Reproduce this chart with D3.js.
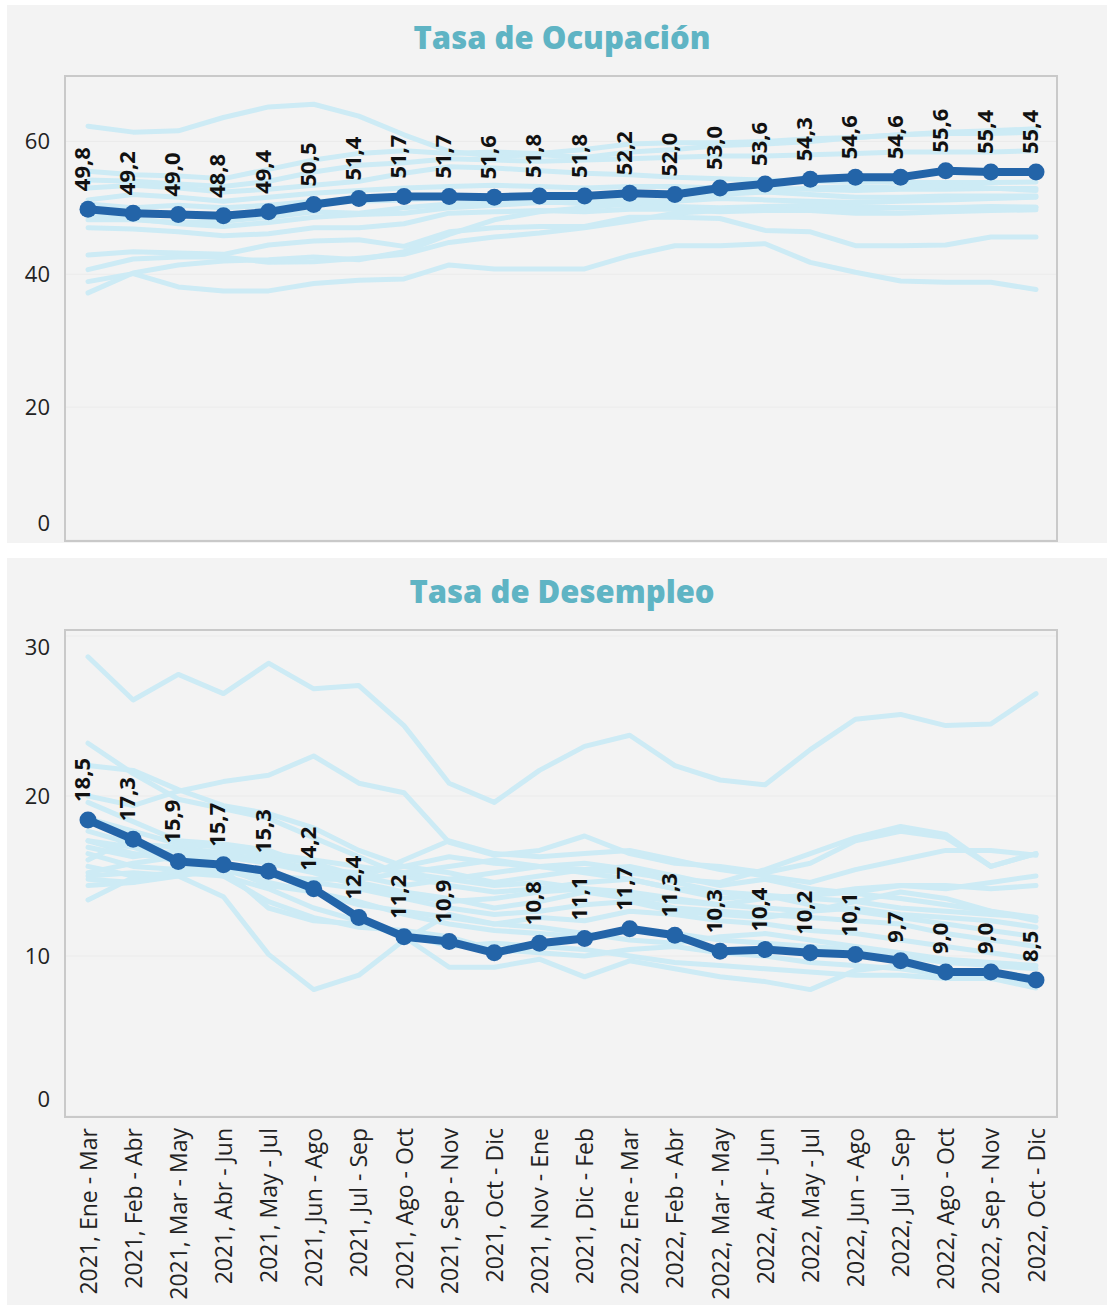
<!DOCTYPE html>
<meta charset="utf-8">
<style>
body { margin: 0; background: #fff; }
svg text { font-family: "Open Sans", "Noto Sans", sans-serif; }
.title { font-weight: 800; fill: #5fb4c4; text-anchor: middle; }
.tick text { font-size: 22px; fill: #222; }
.xlab .tick text { font-size: 23px; }
.val { font-size: 22px; font-weight: 700; fill: #111; }
</style>
<body>
<script src="https://d3js.org/d3.v7.min.js"></script>
<script>
// periods (x axis)
var periods = ["2021, Ene - Mar", "2021, Feb - Abr", "2021, Mar - May", "2021, Abr - Jun",
  "2021, May - Jul", "2021, Jun - Ago", "2021, Jul - Sep", "2021, Ago - Oct", "2021, Sep - Nov",
  "2021, Oct - Dic", "2021, Nov - Ene", "2021, Dic - Feb", "2022, Ene - Mar", "2022, Feb - Abr",
  "2022, Mar - May", "2022, Abr - Jun", "2022, May - Jul", "2022, Jun - Ago", "2022, Jul - Sep",
  "2022, Ago - Oct", "2022, Sep - Nov", "2022, Oct - Dic"];

// national series (dark line)
var ocupacion = [49.8, 49.2, 49.0, 48.8, 49.4, 50.5, 51.4, 51.7, 51.7, 51.6, 51.8, 51.8,
  52.2, 52.0, 53.0, 53.6, 54.3, 54.6, 54.6, 55.6, 55.4, 55.4];
var desempleo = [18.5, 17.3, 15.9, 15.7, 15.3, 14.2, 12.4, 11.2, 10.9, 10.2, 10.8, 11.1,
  11.7, 11.3, 10.3, 10.4, 10.2, 10.1, 9.7, 9.0, 9.0, 8.5];
var desempleoSinEtiqueta = [9];

// cities (light lines)
var ocupCiudades = [
  [62.3, 61.4, 61.6, 63.6, 65.2, 65.6, 63.8, 61.0, 58.5, 57.8, 58.0, 57.6, 58.4, 58.8, 59.4, 59.6, 60.0, 60.6, 61.0, 61.4, 61.6, 61.9],
  [55.5, 55.0, 54.8, 54.4, 55.8, 57.2, 58.2, 58.6, 58.2, 58.4, 58.2, 58.8, 59.6, 59.8, 59.8, 60.0, 60.4, 60.6, 61.0, 61.2, 61.2, 61.4],
  [54.2, 54.0, 53.6, 53.2, 54.0, 55.4, 56.4, 56.8, 57.4, 57.2, 57.0, 57.2, 57.4, 57.6, 57.8, 57.8, 58.0, 58.2, 58.4, 58.4, 58.4, 58.6],
  [53.0, 53.4, 53.0, 52.4, 52.8, 53.4, 54.0, 55.2, 56.2, 56.0, 55.6, 55.2, 55.0, 54.6, 54.4, 54.2, 54.0, 54.0, 53.8, 53.8, 53.8, 53.9],
  [51.2, 52.0, 51.6, 51.0, 51.6, 52.2, 52.6, 53.0, 53.2, 53.4, 53.2, 53.0, 53.2, 53.2, 53.0, 53.0, 52.8, 52.6, 52.8, 52.8, 52.9, 52.9],
  [50.6, 50.0, 50.4, 50.0, 50.4, 51.0, 51.0, 51.2, 51.6, 51.6, 51.8, 51.6, 52.0, 52.0, 52.4, 52.4, 52.0, 51.6, 51.6, 51.8, 51.8, 51.8],
  [48.2, 48.2, 47.8, 48.0, 48.6, 49.4, 49.2, 50.0, 50.6, 50.8, 51.0, 50.6, 50.4, 50.2, 50.0, 50.2, 50.4, 50.2, 50.0, 50.0, 50.1, 50.1],
  [47.0, 46.8, 46.4, 45.8, 46.1, 47.0, 47.0, 47.6, 49.2, 49.4, 49.6, 49.4, 49.8, 49.8, 49.4, 49.6, 49.6, 49.2, 49.2, 49.4, 49.6, 49.7],
  [42.9, 43.4, 43.2, 43.0, 44.4, 45.0, 45.2, 44.2, 46.4, 47.0, 47.2, 47.2, 48.6, 48.6, 48.4, 46.6, 46.4, 44.3, 44.3, 44.4, 45.6, 45.6],
  [40.7, 42.3, 42.6, 42.6, 41.8, 41.9, 42.4, 43.0, 44.8, 45.6, 46.2, 47.0, 48.0, 49.2, 49.6, 49.8, 49.6, 49.8, 50.0, 50.0, 50.2, 50.1],
  [38.9, 40.1, 38.1, 37.5, 37.5, 38.6, 39.1, 39.3, 41.4, 40.8, 40.8, 40.8, 42.8, 44.3, 44.3, 44.6, 41.8, 40.3, 39.0, 38.8, 38.8, 37.7],
  [37.2, 40.2, 41.4, 42.0, 42.2, 42.6, 42.2, 43.4, 46.0, 48.2, 49.4, 50.0, 50.6, 51.0, 51.4, 51.2, 51.0, 50.8, 51.0, 51.2, 51.4, 51.6],
  [49.0, 48.4, 47.6, 47.2, 47.8, 48.6, 49.0, 49.2, 50.0, 50.4, 50.8, 50.8, 51.2, 51.0, 52.0, 52.4, 53.0, 53.2, 53.0, 53.4, 53.0, 52.6]
];
var desCiudades = [
  [28.7, 26.0, 27.6, 26.4, 28.3, 26.7, 26.9, 24.4, 20.8, 19.6, 21.6, 23.1, 23.8, 21.9, 21.0, 20.7, 22.9, 24.8, 25.1, 24.4, 24.5, 26.4],
  [23.3, 21.4, 19.8, 19.2, 18.6, 17.4, 16.2, 15.0, 14.4, 14.0, 14.2, 14.6, 14.8, 14.2, 13.6, 13.8, 13.2, 12.8, 12.4, 12.0, 11.6, 11.2],
  [21.9, 21.6, 20.4, 19.4, 18.9, 18.0, 16.6, 15.6, 15.2, 14.6, 15.0, 15.4, 15.6, 15.0, 14.4, 14.8, 14.2, 13.9, 13.6, 13.2, 12.8, 12.4],
  [20.0, 19.4, 20.3, 20.9, 21.3, 22.5, 20.8, 20.2, 17.1, 16.3, 16.6, 17.5, 16.4, 15.8, 15.6, 15.2, 15.8, 17.2, 17.8, 17.4, 15.6, 16.4],
  [17.2, 16.4, 16.0, 16.2, 16.0, 15.4, 15.2, 15.6, 16.2, 15.8, 15.6, 15.4, 15.2, 14.8, 14.6, 15.4, 16.4, 17.4, 18.1, 17.6, 15.6, 16.4],
  [19.6, 18.4, 17.2, 17.0, 16.6, 15.6, 14.8, 16.0, 17.2, 16.4, 16.2, 16.4, 16.6, 16.0, 15.4, 15.0, 14.6, 15.4, 16.0, 16.6, 16.6, 16.3],
  [17.8, 17.0, 16.8, 16.4, 16.0, 15.4, 14.6, 14.0, 13.6, 13.0, 13.4, 14.0, 13.6, 13.0, 12.8, 12.6, 12.4, 12.2, 12.0, 11.4, 11.0, 10.6],
  [15.0, 15.2, 15.0, 13.7, 10.1, 7.9, 8.8, 11.0, 12.6, 12.0, 12.4, 12.2, 12.8, 12.6, 12.2, 12.0, 11.6, 11.4, 11.0, 10.6, 10.2, 9.8],
  [15.6, 15.0, 15.2, 15.0, 14.2, 13.0, 12.2, 11.2, 9.3, 9.3, 9.8, 8.7, 9.7, 9.2, 8.7, 8.4, 7.9, 9.1, 9.4, 9.0, 8.8, 8.2],
  [13.5, 14.9, 15.2, 15.4, 14.6, 14.0, 13.4, 12.6, 12.0, 11.6, 11.4, 11.2, 11.6, 11.4, 11.0, 10.8, 10.6, 10.4, 10.0, 9.6, 9.4, 9.2],
  [16.4, 15.6, 15.4, 15.0, 13.4, 12.4, 11.8, 11.6, 11.2, 10.4, 10.2, 10.0, 10.4, 10.6, 10.2, 10.0, 9.6, 9.4, 9.2, 8.8, 8.6, 8.0],
  [14.8, 14.6, 15.4, 15.8, 15.2, 14.6, 14.2, 13.6, 13.0, 12.6, 12.8, 13.2, 13.4, 12.8, 12.6, 12.4, 12.8, 13.4, 14.0, 13.6, 12.8, 12.2],
  [16.8, 16.2, 16.6, 16.2, 15.8, 15.2, 14.4, 13.8, 13.4, 13.6, 14.0, 14.2, 14.0, 13.6, 13.2, 13.0, 12.8, 13.0, 12.6, 12.4, 12.2, 11.8],
  [18.6, 17.8, 17.0, 16.8, 16.2, 15.8, 15.0, 14.4, 14.8, 15.2, 15.6, 15.8, 15.4, 14.6, 14.0, 13.6, 13.8, 14.2, 14.4, 14.2, 14.6, 15.0],
  [15.2, 15.8, 16.2, 16.6, 16.4, 16.0, 15.6, 15.2, 14.8, 14.4, 14.6, 14.2, 13.8, 13.4, 13.2, 13.6, 13.8, 14.0, 14.4, 14.4, 14.2, 14.4],
  [17.2, 16.8, 15.8, 15.6, 14.4, 14.0, 13.2, 12.8, 12.4, 12.0, 11.8, 11.4, 11.0, 10.8, 11.2, 11.4, 11.0, 10.6, 10.2, 9.8, 9.6, 9.4],
  [14.4, 14.6, 15.0, 15.4, 13.0, 12.2, 12.0, 11.4, 10.6, 10.8, 10.6, 10.4, 10.0, 9.6, 9.4, 9.2, 9.0, 8.8, 8.8, 8.6, 8.6, 8.4],
  [16.0, 17.4, 16.0, 15.4, 15.0, 14.8, 14.8, 15.2, 15.6, 16.0, 15.6, 15.2, 14.8, 14.2, 14.0, 13.8, 13.6, 13.4, 13.0, 12.8, 12.6, 12.4]
];

var ocupTicks = [0, 20, 40, 60];
var desTicks = [0, 10, 20, 30];

var width = 1107, height = 1305;
var fmt = function(v) { return d3.format(".1f")(v).replace(".", ","); };

var svg = d3.select("body").append("svg")
    .attr("width", width)
    .attr("height", height);

var x = d3.scalePoint().domain(periods).range([88, 1036]);

// draws one panel
function panel(cfg) {
  svg.append("rect")
      .attr("x", 7).attr("y", cfg.top)
      .attr("width", width - 7).attr("height", cfg.bottom - cfg.top)
      .attr("fill", "#f3f3f3");

  svg.append("text")
      .attr("class", "title")
      .attr("x", 562).attr("y", cfg.titleY)
      .style("font-size", "31px")
      .text(cfg.title);

  var y = d3.scaleLinear().domain(cfg.domain).range([cfg.plotBottom, cfg.plotTop]);

  // gridlines
  svg.append("g").selectAll("line")
    .data(cfg.ticks)
    .enter().append("line")
      .attr("x1", 66).attr("x2", 1056)
      .attr("y1", function(d) { return y(d); })
      .attr("y2", function(d) { return y(d); })
      .attr("stroke", "#ebebeb").attr("stroke-width", 1);

  // y axis labels (extremes pulled inside like the original)
  var ax = svg.append("g")
      .attr("transform", "translate(65,0)")
      .call(d3.axisLeft(y).tickValues(cfg.ticks).tickSize(0).tickPadding(15));
  ax.select(".domain").remove();
  ax.selectAll(".tick text")
      .attr("y", function(d) {
        var p = y(d);
        if (p > cfg.boxBottom - 18) return -(p - (cfg.boxBottom - 18));
        if (p < cfg.boxTop + 17) return (cfg.boxTop + 17) - p;
        return 0;
      });

  var line = d3.line()
      .x(function(d, i) { return x(periods[i]); })
      .y(function(d) { return y(d); });

  svg.append("g").selectAll("path")
    .data(cfg.cities)
    .enter().append("path")
      .attr("d", line)
      .attr("fill", "none")
      .attr("stroke", "#cdebf5")
      .attr("stroke-width", 5)
      .attr("stroke-linejoin", "round")
      .attr("stroke-linecap", "round");

  svg.append("path")
      .datum(cfg.main)
      .attr("d", line)
      .attr("fill", "none")
      .attr("stroke", "#2364a8")
      .attr("stroke-width", 8)
      .attr("stroke-linejoin", "round");

  svg.append("g").selectAll("circle")
    .data(cfg.main)
    .enter().append("circle")
      .attr("cx", function(d, i) { return x(periods[i]); })
      .attr("cy", function(d) { return y(d); })
      .attr("r", 8.5)
      .attr("fill", "#2364a8");

  svg.append("g").selectAll("text")
    .data(cfg.main.map(function(v, i) { return {v: v, i: i}; })
      .filter(function(d) { return cfg.hidden.indexOf(d.i) < 0; }))
    .enter().append("text")
      .attr("class", "val")
      .attr("transform", function(d) {
        return "translate(" + (x(periods[d.i]) + 2) + "," + (y(d.v) - 18) + ") rotate(-90)";
      })
      .text(function(d) { return fmt(d.v); });

  // plot frame
  svg.append("rect")
      .attr("x", 65).attr("y", cfg.boxTop)
      .attr("width", 992).attr("height", cfg.boxBottom - cfg.boxTop)
      .attr("fill", "none")
      .attr("stroke", "#c9c9c9").attr("stroke-width", 2);

  return y;
}

panel({
  top: 5, bottom: 543, titleY: 49, title: "Tasa de Ocupación",
  domain: [0, 70], plotBottom: 540, plotTop: 75, boxTop: 76, boxBottom: 541,
  ticks: ocupTicks, cities: ocupCiudades, main: ocupacion, hidden: []
});

panel({
  top: 558, bottom: height, titleY: 603, title: "Tasa de Desempleo",
  domain: [0, 30], plotBottom: 1116, plotTop: 636, boxTop: 630, boxBottom: 1117,
  ticks: desTicks, cities: desCiudades, main: desempleo, hidden: desempleoSinEtiqueta
});

// x axis (bottom chart only)
var xa = svg.append("g")
    .attr("class", "xlab")
    .attr("transform", "translate(0,1117)")
    .call(d3.axisBottom(x).tickSize(0));
xa.select(".domain").remove();
xa.selectAll(".tick text")
    .attr("transform", "rotate(-90)")
    .attr("x", -11)
    .attr("y", 0)
    .attr("dy", "0.35em")
    .style("text-anchor", "end");
</script>
</body>
